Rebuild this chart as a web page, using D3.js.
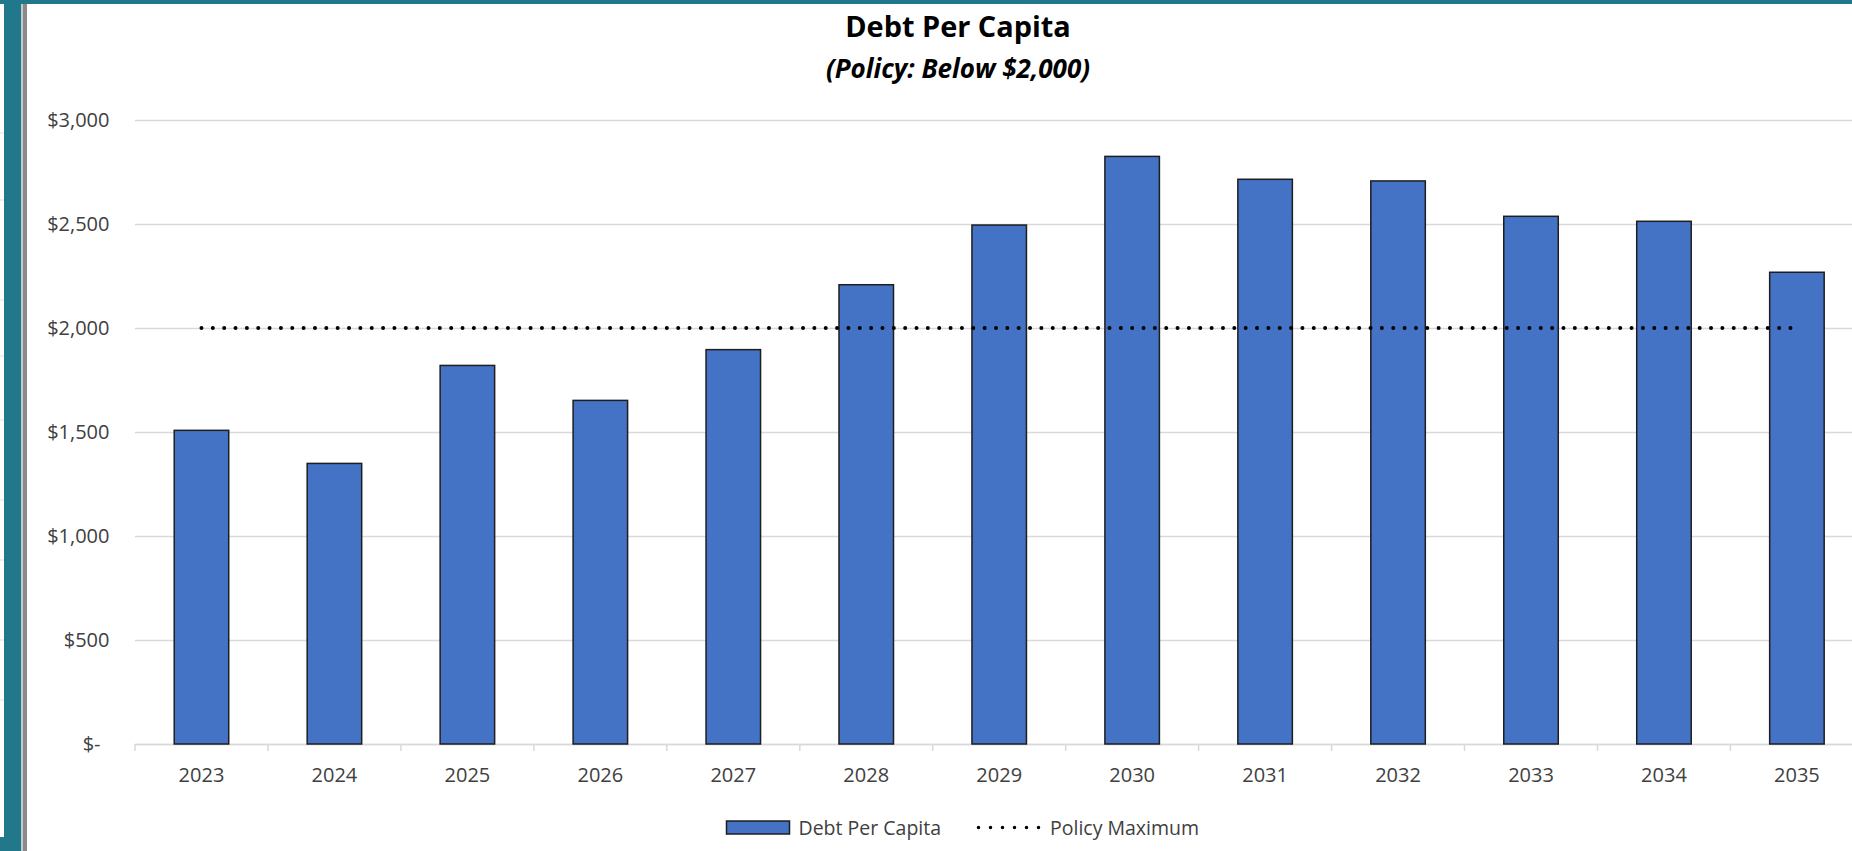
<!DOCTYPE html>
<html>
<head>
<meta charset="utf-8">
<script src="https://cdn.jsdelivr.net/npm/d3@7"></script>
<style>
  html, body { margin: 0; padding: 0; background: #fff; overflow: hidden; }
  svg { display: block; }
</style>
</head>
<body>
<svg id="chart" width="1852" height="851"></svg>
<script>
// ---- data ----
const years = ["2023","2024","2025","2026","2027","2028","2029","2030","2031","2032","2033","2034","2035"];
const debtPerCapita = [1508, 1349, 1820, 1652, 1896, 2208, 2495, 2825, 2715, 2707, 2537, 2513, 2268];
const policyMaximum = [2000, 2000, 2000, 2000, 2000, 2000, 2000, 2000, 2000, 2000, 2000, 2000, 2000];
const yTicks = [0, 500, 1000, 1500, 2000, 2500, 3000];
const titleText = "Debt Per Capita";
const subtitleText = "(Policy: Below $2,000)";
const legendLabels = ["Debt Per Capita", "Policy Maximum"];

// ---- layout ----
const W = 1852, H = 851;
const plot = { left: 135, right: 1863.4, top: 120, bottom: 744 };
const FONT = "'Open Sans', 'Noto Sans', sans-serif";
const barColor = "#4472C4";
const gridColor = "#d9d9d9";
const labelSize = 20;

const svg = d3.select("#chart");

// window decorations (spreadsheet frame)
svg.append("rect").attr("x", 0).attr("y", 0).attr("width", W).attr("height", H).attr("fill", "#fff");
svg.append("rect").attr("x", 0).attr("y", 0).attr("width", W).attr("height", 4).attr("fill", "#20788a");
svg.append("rect").attr("x", 4).attr("y", 0).attr("width", 17).attr("height", H).attr("fill", "#20788a");
svg.append("rect").attr("x", 0).attr("y", 837).attr("width", 21).attr("height", H - 837).attr("fill", "#20788a");
svg.append("rect").attr("x", 21).attr("y", 4).attr("width", 2).attr("height", H - 4).attr("fill", "#c8c8c8");
svg.append("rect").attr("x", 23).attr("y", 4).attr("width", 4).attr("height", H - 4).attr("fill", "#8a8a8a");
[133, 200, 300, 356, 420, 500, 560, 640, 700].forEach(yy => {
  svg.append("line").attr("x1", 0).attr("x2", 4).attr("y1", yy).attr("y2", yy)
    .attr("stroke", "#e0e0e0").attr("stroke-width", 1);
});

// ---- scales ----
const x = d3.scaleBand().domain(years).range([plot.left, plot.right]).padding(0);
const y = d3.scaleLinear().domain([0, 3000]).range([plot.bottom, plot.top]);
const barW = x.bandwidth() * 0.41;

// gridlines
const grid = svg.append("g").attr("transform", `translate(${plot.left},0)`)
  .call(d3.axisLeft(y).tickValues(yTicks).tickSize(-(plot.right - plot.left)).tickFormat(""));
grid.select(".domain").remove();
grid.selectAll(".tick line").attr("stroke", gridColor).attr("stroke-width", 1.5);

// y labels
const yFmt = d3.format("$,");
const yAxis = svg.append("g").attr("transform", `translate(${plot.left - 25.5},0)`)
  .call(d3.axisLeft(y).tickValues(yTicks).tickSize(0).tickPadding(0)
    .tickFormat(d => d === 0 ? "$-" : yFmt(d)));
yAxis.select(".domain").remove();
yAxis.selectAll(".tick text")
  .attr("font-family", FONT).attr("font-size", labelSize).attr("fill", "#404040")
  .attr("dx", d => d === 0 ? -9 : 0);

// x axis
const xAxis = svg.append("g").attr("transform", `translate(0,${plot.bottom})`)
  .call(d3.axisBottom(x).tickSize(0).tickPadding(0));
xAxis.select(".domain").attr("stroke", gridColor).attr("stroke-width", 1.5);
xAxis.selectAll(".tick text")
  .attr("font-family", FONT).attr("font-size", labelSize).attr("fill", "#404040")
  .attr("y", 37.5).attr("dy", 0);
// category separator ticks
const sepTicks = years.map(yr => x(yr)).concat([plot.right]);
svg.append("g").selectAll("line").data(sepTicks).join("line")
  .attr("x1", d => d).attr("x2", d => d)
  .attr("y1", plot.bottom).attr("y2", plot.bottom + 7)
  .attr("stroke", gridColor).attr("stroke-width", 1.5);

// bars
svg.append("g").selectAll("rect").data(years).join("rect")
  .attr("x", (d) => x(d) + (x.bandwidth() - barW) / 2)
  .attr("y", (d, i) => y(debtPerCapita[i]))
  .attr("width", barW)
  .attr("height", (d, i) => y(0) - y(debtPerCapita[i]))
  .attr("fill", barColor)
  .attr("stroke", "#1e1e1e")
  .attr("stroke-width", 1.5);

// policy line
const line = d3.line()
  .x((d, i) => x(years[i]) + x.bandwidth() / 2)
  .y(d => y(d));
svg.append("path").datum(policyMaximum)
  .attr("d", line)
  .attr("fill", "none")
  .attr("stroke", "#000")
  .attr("stroke-width", 4)
  .attr("stroke-linecap", "round")
  .attr("stroke-dasharray", "0 11.35");

// titles
svg.append("text").attr("x", 958).attr("y", 37)
  .attr("text-anchor", "middle").attr("font-family", FONT)
  .attr("font-weight", "bold").attr("font-size", 28.9).attr("fill", "#000")
  .text(titleText);
svg.append("text").attr("x", 958).attr("y", 77.5)
  .attr("text-anchor", "middle").attr("font-family", FONT)
  .attr("font-weight", "bold").attr("font-style", "italic").attr("font-size", 26).attr("fill", "#000")
  .text(subtitleText);

// legend
const lg = svg.append("g");
lg.append("rect").attr("x", 726.5).attr("y", 821).attr("width", 63).attr("height", 13)
  .attr("fill", barColor).attr("stroke", "#1e1e1e").attr("stroke-width", 1.5);
lg.append("text").attr("x", 798.5).attr("y", 835)
  .attr("font-family", FONT).attr("font-size", 19.5).attr("fill", "#404040")
  .text(legendLabels[0]);
lg.append("line").attr("x1", 978.5).attr("x2", 1039).attr("y1", 827.5).attr("y2", 827.5)
  .attr("stroke", "#000").attr("stroke-width", 3.5).attr("stroke-linecap", "round")
  .attr("stroke-dasharray", "0 12");
lg.append("text").attr("x", 1050).attr("y", 835)
  .attr("font-family", FONT).attr("font-size", 19.5).attr("fill", "#404040")
  .text(legendLabels[1]);
</script>
</body>
</html>
